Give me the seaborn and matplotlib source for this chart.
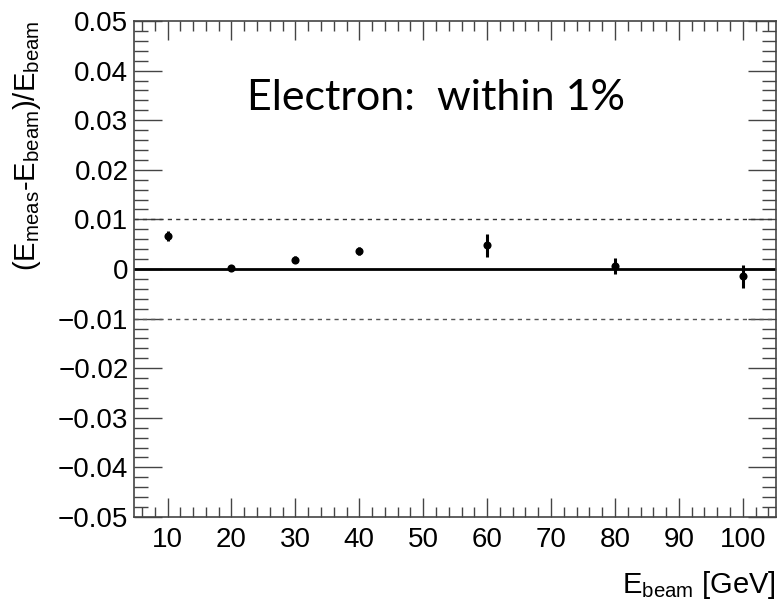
import numpy as np
import pandas as pd
import matplotlib
matplotlib.use("Agg")
import matplotlib.pyplot as plt
from matplotlib.ticker import MultipleLocator, FuncFormatter
import seaborn as sns

# Data
e_beam = [10, 20, 30, 40, 60, 80, 100]
resid = [0.0067, 0.0002, 0.0019, 0.0036, 0.0048, 0.0006, -0.0015]
resid_err = [0.0010, 0.0004, 0.0007, 0.0008, 0.0023, 0.0017, 0.0024]
x_ticks = [10, 20, 30, 40, 50, 60, 70, 80, 90, 100]
y_ticks = [-0.05, -0.04, -0.03, -0.02, -0.01, 0, 0.01, 0.02, 0.03, 0.04, 0.05]

df = pd.DataFrame({"E": e_beam, "r": resid, "err": resid_err})

sns.set_theme(style="ticks")
plt.rcParams["font.family"] = ["Liberation Sans", "DejaVu Sans"]
plt.rcParams["mathtext.fontset"] = "custom"
plt.rcParams["mathtext.rm"] = "Liberation Sans"
plt.rcParams["mathtext.it"] = "Liberation Sans"
plt.rcParams["text.color"] = "black"
plt.rcParams["axes.labelcolor"] = "black"

fig = plt.figure(figsize=(7.81, 6.10), dpi=100)
ax = fig.add_axes([134 / 781, 1 - 517 / 610, (776 - 134) / 781, (517 - 21) / 610])

ax.set_xlim(4.75, 105.2)
ax.set_ylim(-0.05, 0.05)

# reference lines
ax.axhline(0, color="black", lw=2.0, zorder=2)
ax.axhline(0.01, color="#333333", lw=1.0, ls=(0, (3, 3)), zorder=2)
ax.axhline(-0.01, color="#555555", lw=1.0, ls=(0, (3, 3)), zorder=2)

ax.errorbar(df["E"], df["r"], yerr=df["err"], fmt="none", ecolor="black",
            elinewidth=2.2, capsize=0, zorder=3)
sns.scatterplot(data=df, x="E", y="r", ax=ax, color="black", s=34,
                edgecolor="black", linewidth=0, zorder=4, legend=False)

ax.set_xticks(x_ticks)
ax.set_yticks(y_ticks)
ax.xaxis.set_minor_locator(MultipleLocator(2))
ax.yaxis.set_minor_locator(MultipleLocator(0.002))


def yfmt(v, pos):
    if abs(v) < 1e-9:
        return "0"
    s = f"{v:.2f}"
    return s.replace("-", "\u2212")


ax.yaxis.set_major_formatter(FuncFormatter(yfmt))

ax.tick_params(which="both", direction="in", top=True, right=True,
               colors="#444444", labelcolor="black", labelsize=20, width=1.0)
ax.tick_params(axis="y", which="major", length=20, pad=4)
ax.tick_params(axis="y", which="minor", length=10)
ax.tick_params(axis="x", which="major", length=14, pad=7)
ax.tick_params(axis="x", which="minor", length=7)
for sp in ax.spines.values():
    sp.set_color("#444444")
    sp.set_linewidth(1.2)

ax.set_xlabel(r"$\mathregular{E_{beam}}$ [GeV]", fontsize=21, loc="right", labelpad=12,
              color="black")
ax.set_ylabel(r"$\mathregular{(E_{meas}}$-$\mathregular{E_{beam})/E_{beam}}$",
              fontsize=21, loc="top", color="black")
ax.yaxis.set_label_coords(-0.142, 1.0)

ax.text(0.47, 0.8206, "Electron:  within 1%", transform=ax.transAxes, color="black",
        fontsize=31, family=["Lato", "DejaVu Sans"], ha="center", va="baseline")

fig.savefig("out.png", dpi=100)
